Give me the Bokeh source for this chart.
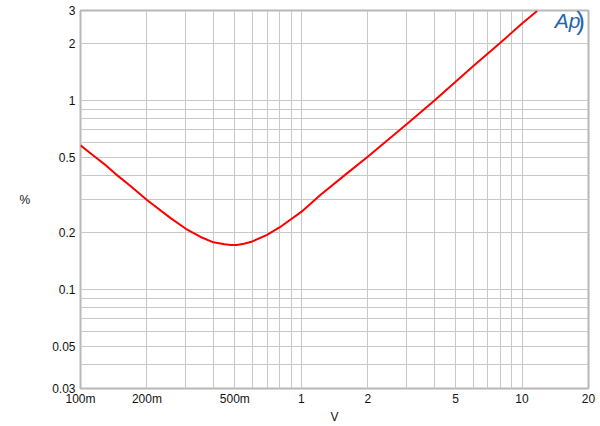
from bokeh.plotting import figure
from bokeh.models import FixedTicker, Label
from bokeh.embed import file_html
from bokeh.resources import INLINE

# ---- data ----
volts = [0.1, 0.115, 0.13, 0.144, 0.17, 0.2, 0.256, 0.3, 0.35, 0.4, 0.45, 0.48,
         0.51, 0.55, 0.6, 0.7, 0.8, 1.0, 1.22, 1.6, 2.0, 3.0, 4.0, 5.0, 6.0,
         8.0, 10.0, 11.7]
thd_pct = [0.58, 0.51, 0.456, 0.41, 0.35, 0.298, 0.239, 0.21, 0.19, 0.178,
           0.174, 0.1725, 0.1725, 0.175, 0.18, 0.195, 0.214, 0.258, 0.317,
           0.41, 0.505, 0.75, 1.0, 1.26, 1.52, 2.03, 2.56, 2.98]

x_ticks = [0.1, 0.2, 0.5, 1, 2, 5, 10, 20]
x_tick_labels = ["100m", "200m", "500m", "1", "2", "5", "10", "20"]
y_ticks = [0.03, 0.05, 0.1, 0.2, 0.5, 1, 2, 3]
y_tick_labels = ["0.03", "0.05", "0.1", "0.2", "0.5", "1", "2", "3"]

x_grid = [0.1, 0.2, 0.3, 0.4, 0.5, 0.6, 0.7, 0.8, 0.9,
          1, 2, 3, 4, 5, 6, 7, 8, 9, 10, 20]
y_grid = [0.03, 0.04, 0.05, 0.06, 0.07, 0.08, 0.09,
          0.1, 0.2, 0.3, 0.4, 0.5, 0.6, 0.7, 0.8, 0.9, 1, 2, 3]

x_label = "V"
y_label = "%"

FONT = "Liberation Sans"
TXT = "#111111"

p = figure(width=600, height=426, x_axis_type="log", y_axis_type="log",
           x_range=(0.1, 20), y_range=(0.03, 3),
           output_backend="svg", toolbar_location=None,
           min_border_left=80, min_border_right=12,
           min_border_top=10, min_border_bottom=37)

p.background_fill_color = "white"
p.border_fill_color = "white"
p.outline_line_color = "#b8b8b8"
p.outline_line_width = 2

for ax, ticks, labels in ((p.xaxis[0], x_ticks, x_tick_labels),
                          (p.yaxis[0], y_ticks, y_tick_labels)):
    ax.ticker = FixedTicker(ticks=ticks)
    ax.major_label_overrides = {t: l for t, l in zip(ticks, labels)}
    ax.axis_line_color = None
    ax.major_tick_line_color = None
    ax.minor_tick_line_color = None
    ax.major_label_text_font = FONT
    ax.major_label_text_font_size = "12px"
    ax.major_label_text_color = TXT
    ax.axis_label_text_font = FONT
    ax.axis_label_text_font_size = "12px"
    ax.axis_label_text_font_style = "normal"
    ax.axis_label_text_color = TXT

p.xaxis[0].axis_label = x_label
p.xaxis[0].major_label_standoff = -3
p.xaxis[0].axis_label_standoff = 1

p.yaxis[0].axis_label = y_label
p.yaxis[0].major_label_standoff = -1
p.yaxis[0].axis_label_standoff = 19
p.yaxis[0].axis_label_orientation = "horizontal"

p.xgrid.ticker = FixedTicker(ticks=x_grid)
p.ygrid.ticker = FixedTicker(ticks=y_grid)
for g in (p.xgrid[0], p.ygrid[0]):
    g.grid_line_color = "#c8c8c8"
    g.grid_line_width = 1

p.line(volts, thd_pct, line_color="#ff0000", line_width=2)

# AP logo (screen units relative to the plot frame)
p.add_layout(Label(x=487, y=368, x_units="screen", y_units="screen", text="Ap",
                   text_font=FONT, text_font_size="21px", text_font_style="italic",
                   text_color="#2366b0", text_align="center", text_baseline="middle"))
p.add_layout(Label(x=500, y=368, x_units="screen", y_units="screen", text=")",
                   text_font=FONT, text_font_size="26px",
                   text_color="#2366b0", text_align="center", text_baseline="middle"))

open("out.html", "w").write(file_html(p, INLINE))
